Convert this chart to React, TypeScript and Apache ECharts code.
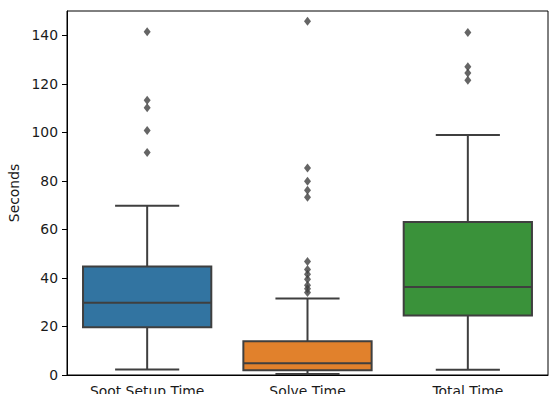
import React, { useEffect, useRef } from "react";
import * as echarts from "echarts";

const categories = ["Soot Setup Time", "Solve Time", "Total Time"];
const mins = [2.3, 0.4, 2.2];
const q1s = [19.7, 2.0, 24.5];
const medians = [29.8, 4.8, 36.3];
const q3s = [44.7, 13.9, 63.1];
const maxs = [69.7, 31.5, 98.9];
const outliersSoot = [91.7, 100.8, 110.1, 113.2, 141.4];
const outliersSolve = [34, 35.5, 37, 39.5, 41.5, 43.5, 46.8, 73.3, 76.1, 79.8, 85.3, 145.8];
const outliersTotal = [121.5, 124.5, 127, 141.1];
const yTicks = [0, 20, 40, 60, 80, 100, 120, 140];
const boxColors = ["#3274a1", "#e1812c", "#3a923a"];

const EDGE = "#3f3f3f";
const FONT = "DejaVu Sans";

export default function App() {
  const ref = useRef<HTMLDivElement>(null);
  useEffect(() => {
    if (!ref.current) return;
    const chart = echarts.init(ref.current, undefined, { renderer: "svg" });
    const boxData = categories.map((_, i) => [i, mins[i], q1s[i], medians[i], q3s[i], maxs[i]]);
    const outlierSets = [outliersSoot, outliersSolve, outliersTotal];
    const outlierData: number[][] = [];
    outlierSets.forEach((arr, i) => arr.forEach((v) => outlierData.push([i, v])));

    chart.setOption({
      animation: false,
      grid: {
        left: 67,
        right: 2,
        top: 11,
        bottom: 19,
        outerBoundsMode: "none",
        containLabel: false,
        show: true,
        borderColor: "#000",
        borderWidth: 1,
        backgroundColor: "transparent",
      },
      xAxis: {
        type: "category",
        data: categories,
        axisLine: { lineStyle: { color: "#000", width: 1 } },
        axisTick: { alignWithLabel: true, length: 5, lineStyle: { color: "#000" } },
        axisLabel: { color: "#1a1a1a", fontSize: 13.9, fontFamily: FONT, margin: 9 },
        splitLine: { show: false },
      },
      yAxis: {
        type: "value",
        min: 0,
        max: 150,
        name: "Seconds",
        nameLocation: "middle",
        nameGap: 38,
        nameTextStyle: { color: "#1a1a1a", fontSize: 13.9, fontFamily: FONT },
        axisLine: { show: true, lineStyle: { color: "#000", width: 1 } },
        axisTick: { show: true, length: 5, lineStyle: { color: "#000" }, customValues: yTicks },
        axisLabel: { color: "#1a1a1a", fontSize: 13.9, fontFamily: FONT, margin: 9, customValues: yTicks },
        splitLine: { show: false },
      },
      series: [
        {
          type: "custom",
          data: boxData,
          encode: { x: 0, y: [1, 2, 3, 4, 5] },
          renderItem: (params: any, api: any) => {
            const idx = api.value(0);
            const band = api.size([1, 0])[0];
            const bw = band * 0.8;
            const cw = bw * 0.5;
            const pMin = api.coord([idx, api.value(1)]);
            const pQ1 = api.coord([idx, api.value(2)]);
            const pMed = api.coord([idx, api.value(3)]);
            const pQ3 = api.coord([idx, api.value(4)]);
            const pMax = api.coord([idx, api.value(5)]);
            const cx = pMed[0];
            const ls = { stroke: EDGE, lineWidth: 2 };
            return {
              type: "group",
              children: [
                { type: "line", shape: { x1: cx, y1: pQ1[1], x2: cx, y2: pMin[1] }, style: ls },
                { type: "line", shape: { x1: cx, y1: pQ3[1], x2: cx, y2: pMax[1] }, style: ls },
                { type: "line", shape: { x1: cx - cw / 2, y1: pMin[1], x2: cx + cw / 2, y2: pMin[1] }, style: ls },
                { type: "line", shape: { x1: cx - cw / 2, y1: pMax[1], x2: cx + cw / 2, y2: pMax[1] }, style: ls },
                {
                  type: "rect",
                  shape: { x: cx - bw / 2, y: pQ3[1], width: bw, height: pQ1[1] - pQ3[1] },
                  style: { fill: boxColors[idx], stroke: EDGE, lineWidth: 2 },
                },
                { type: "line", shape: { x1: cx - bw / 2, y1: pMed[1], x2: cx + bw / 2, y2: pMed[1] }, style: ls },
              ],
            };
          },
          z: 2,
        },
        {
          type: "scatter",
          data: outlierData,
          symbol: "diamond",
          symbolSize: [7, 9],
          itemStyle: { color: EDGE },
          z: 3,
        },
      ],
    });
    return () => chart.dispose();
  }, []);
  return (
    <div
      ref={ref}
      style={{ position: "absolute", left: 0, top: 0, width: 550, height: 394 }}
    />
  );
}
